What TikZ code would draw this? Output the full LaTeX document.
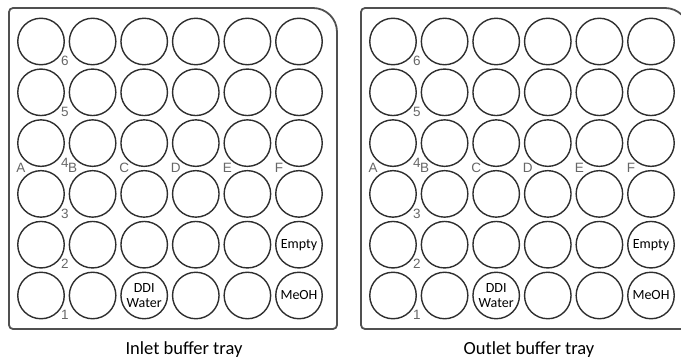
\documentclass[tikz,border=0pt]{standalone}
\usepackage{fontspec}
\setmainfont{Carlito}
\newfontfamily\labfont{Liberation Sans}
\definecolor{traygray}{HTML}{505050}
\definecolor{wellline}{HTML}{2E2E2E}
\definecolor{labgray}{HTML}{666666}
\tikzset{
  well/.style={circle, draw=wellline, line width=1.4pt, minimum size=46.5pt, inner sep=0pt},
  welltext/.style={align=center, inner sep=0pt, font=\fontsize{14}{14.5}\selectfont},
  traybox/.style={draw=traygray, line width=1.8pt},
  coordlab/.style={text=labgray, font=\labfont\fontsize{13.5}{13.5}\selectfont, inner sep=0pt},
  caption/.style={font=\fontsize{18.5}{19}\selectfont, inner sep=0pt}
}
\begin{document}
\begin{tikzpicture}[x=1pt,y=1pt]
\useasboundingbox (0,0) rectangle (681,360);
\clip (0,0) rectangle (681,360);
\foreach \t/\dx in {L/0,R/352}{
  \begin{scope}[xshift=\dx pt]
    \draw[traybox] (9,35) -- (9,348) arc[start angle=180,end angle=90,radius=4]
      -- (313,352) arc[start angle=90,end angle=0,radius=24]
      -- (337,35) arc[start angle=0,end angle=-90,radius=4]
      -- (13,31) arc[start angle=270,end angle=180,radius=4] -- cycle;
    \foreach \r in {1,...,6}{
      \foreach \c in {1,...,6}{
        \node[well] (\t-\r-\c) at ({41+51.6*(\c-1)},{360-41.5-50.8*(6-\r)}) {};
      }
      \node[coordlab] (\t-n\r) at ({41+24},{360-41.5-50.8*(6-\r)-19.5}) {\r};
    }
    \foreach \c/\l in {1/A,2/B,3/C,4/D,5/E,6/F}{
      \node[coordlab] (\t-l\c) at ({41+51.6*(\c-1)-20},{360-168}) {\l};
    }
    \node[welltext] (\t-empty) at (\t-2-6) {Empty};
    \node[welltext] (\t-meoh) at (\t-1-6) {MeOH};
    \node[welltext] (\t-ddi) at (\t-1-3) {DDI\\[1pt]Water};
  \end{scope}
}
\node[caption] (capL) at (184,10) {Inlet buffer tray};
\node[caption] (capR) at (529,10) {Outlet buffer tray};
\end{tikzpicture}
\end{document}
